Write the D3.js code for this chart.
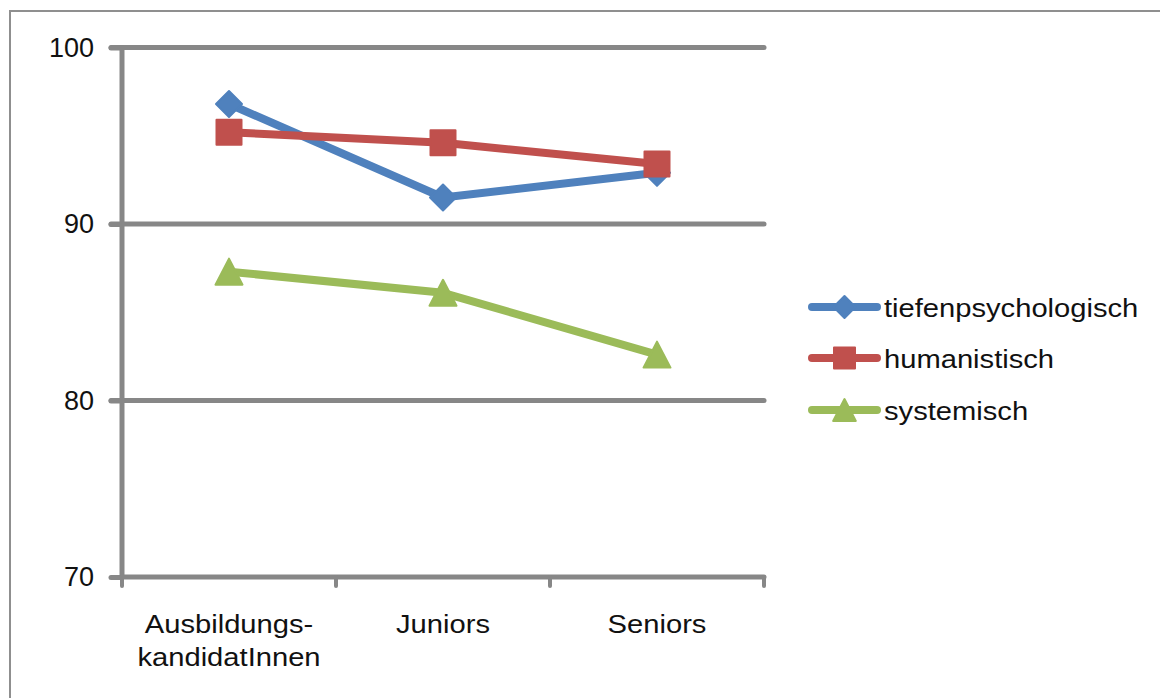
<!DOCTYPE html>
<html>
<head>
<meta charset="utf-8">
<script src="https://cdn.jsdelivr.net/npm/d3@7"></script>
<style>
  html, body { margin: 0; padding: 0; background: #fff; }
  svg { display: block; }
  text { font-family: "Liberation Sans", Arial, sans-serif; fill: #111; }
</style>
</head>
<body>
<svg id="chart" width="1160" height="698"></svg>
<script>
// Categories (x axis), two-line labels
const categories = ["Ausbildungs-kandidatInnen", "Juniors", "Seniors"];
const categoryLines = [["Ausbildungs-", "kandidatInnen"], ["Juniors"], ["Seniors"]];

// Series values
const tiefenpsychologisch = [96.8, 91.5, 92.9];
const humanistisch = [95.2, 94.6, 93.4];
const systemisch = [87.3, 86.1, 82.6];

const seriesNames = ["tiefenpsychologisch", "humanistisch", "systemisch"];
const seriesColors = ["#4F81BD", "#C0504D", "#9BBB59"];
const seriesMarkers = ["diamond", "square", "triangle"];
const seriesValues = [tiefenpsychologisch, humanistisch, systemisch];

// Y ticks
const yTicks = [70, 80, 90, 100];

const svg = d3.select("#chart");
const grey = "#878787";

// Outer frame
svg.append("rect")
  .attr("x", 10).attr("y", 11)
  .attr("width", 1200).attr("height", 720)
  .attr("fill", "none").attr("stroke", "#8f8f8f").attr("stroke-width", 2);

const plot = { left: 122, right: 764, top: 47.5, bottom: 577 };

const x = d3.scaleBand().domain(categories).range([plot.left, plot.right]);
const y = d3.scaleLinear().domain([70, 100]).range([plot.bottom, plot.top]);
const cx = c => x(c) + x.bandwidth() / 2;

// Horizontal gridlines (with the short outer tick on the left)
svg.append("g").selectAll("line")
  .data(yTicks.filter(t => t > 70))
  .join("line")
  .attr("x1", plot.left - 11).attr("x2", plot.right)
  .attr("y1", d => y(d)).attr("y2", d => y(d))
  .attr("stroke", grey).attr("stroke-width", 5).attr("stroke-linecap", "round");

// Y axis: labels via d3.axisLeft
const yAxis = svg.append("g")
  .attr("transform", `translate(${plot.left},0)`)
  .call(d3.axisLeft(y).tickValues(yTicks).tickSize(11).tickPadding(17).tickFormat(d3.format("d")));
yAxis.select(".domain").remove();
yAxis.selectAll(".tick line").attr("stroke", grey).attr("stroke-width", 5).attr("stroke-linecap", "round");
yAxis.selectAll(".tick text")
  .attr("font-size", 27)
  .style("font-family", "'Liberation Sans', Arial, sans-serif")
  .attr("fill", "#111");

// Vertical axis line
svg.append("line")
  .attr("x1", plot.left).attr("x2", plot.left)
  .attr("y1", y(100)).attr("y2", y(70))
  .attr("stroke", grey).attr("stroke-width", 5).attr("stroke-linecap", "round");

// X axis line and category boundary ticks
svg.append("line")
  .attr("x1", plot.left).attr("x2", plot.right)
  .attr("y1", y(70)).attr("y2", y(70))
  .attr("stroke", grey).attr("stroke-width", 5).attr("stroke-linecap", "round");

const boundaries = categories.map(c => x(c)).concat([x(categories[categories.length - 1]) + x.bandwidth()]);
svg.append("g").selectAll("line")
  .data(boundaries)
  .join("line")
  .attr("x1", d => d).attr("x2", d => d)
  .attr("y1", y(70)).attr("y2", y(70) + 9)
  .attr("stroke", grey).attr("stroke-width", 4).attr("stroke-linecap", "round");

// Category labels
const catG = svg.append("g").selectAll("g")
  .data(categories)
  .join("g")
  .attr("transform", d => `translate(${cx(d)},633) scale(1.1,1)`);
catG.each(function (d, i) {
  d3.select(this).selectAll("text")
    .data(categoryLines[i])
    .join("text")
    .attr("y", (t, j) => j * 33)
    .attr("text-anchor", "middle")
    .attr("font-size", 26.5)
    .text(t => t);
});

// Marker shapes
function markerPath(type, s) {
  if (type === "diamond") {
    const r = s * 0.52;
    return `M0,${-r}L${r},0L0,${r}L${-r},0Z`;
  }
  if (type === "square") {
    const h = s / 2;
    return `M${-h},${-h}H${h}V${h}H${-h}Z`;
  }
  const w = s * 0.54, t = s * 0.52;
  return `M0,${-t}L${w},${t}L${-w},${t}Z`;
}

const line = d3.line().x((d, i) => cx(categories[i])).y(d => y(d));

seriesValues.forEach((vals, si) => {
  const g = svg.append("g");
  g.append("path")
    .attr("d", line(vals))
    .attr("fill", "none")
    .attr("stroke", seriesColors[si])
    .attr("stroke-width", 8)
    .attr("stroke-linejoin", "round")
    .attr("stroke-linecap", "round");
  g.selectAll("path.m")
    .data(vals)
    .join("path")
    .attr("class", "m")
    .attr("transform", (d, i) => `translate(${cx(categories[i])},${y(d)})`)
    .attr("d", markerPath(seriesMarkers[si], 25))
    .attr("fill", seriesColors[si])
    .attr("stroke", seriesColors[si])
    .attr("stroke-width", 2)
    .attr("stroke-linejoin", "round");
});

// Legend
const legendY = [307, 358, 410];
const legend = svg.append("g").selectAll("g")
  .data(seriesNames)
  .join("g")
  .attr("transform", (d, i) => `translate(0,${legendY[i]})`);
legend.append("line")
  .attr("x1", 812).attr("x2", 877)
  .attr("stroke", (d, i) => seriesColors[i])
  .attr("stroke-width", 8).attr("stroke-linecap", "round");
legend.append("path")
  .attr("transform", "translate(844.5,0)")
  .attr("d", (d, i) => markerPath(seriesMarkers[i], 21))
  .attr("fill", (d, i) => seriesColors[i])
  .attr("stroke", (d, i) => seriesColors[i])
  .attr("stroke-width", 2)
  .attr("stroke-linejoin", "round");
legend.append("text")
  .attr("transform", "translate(884,9.5) scale(1.1,1)")
  .attr("font-size", 26.5)
  .text(d => d);
</script>
</body>
</html>
